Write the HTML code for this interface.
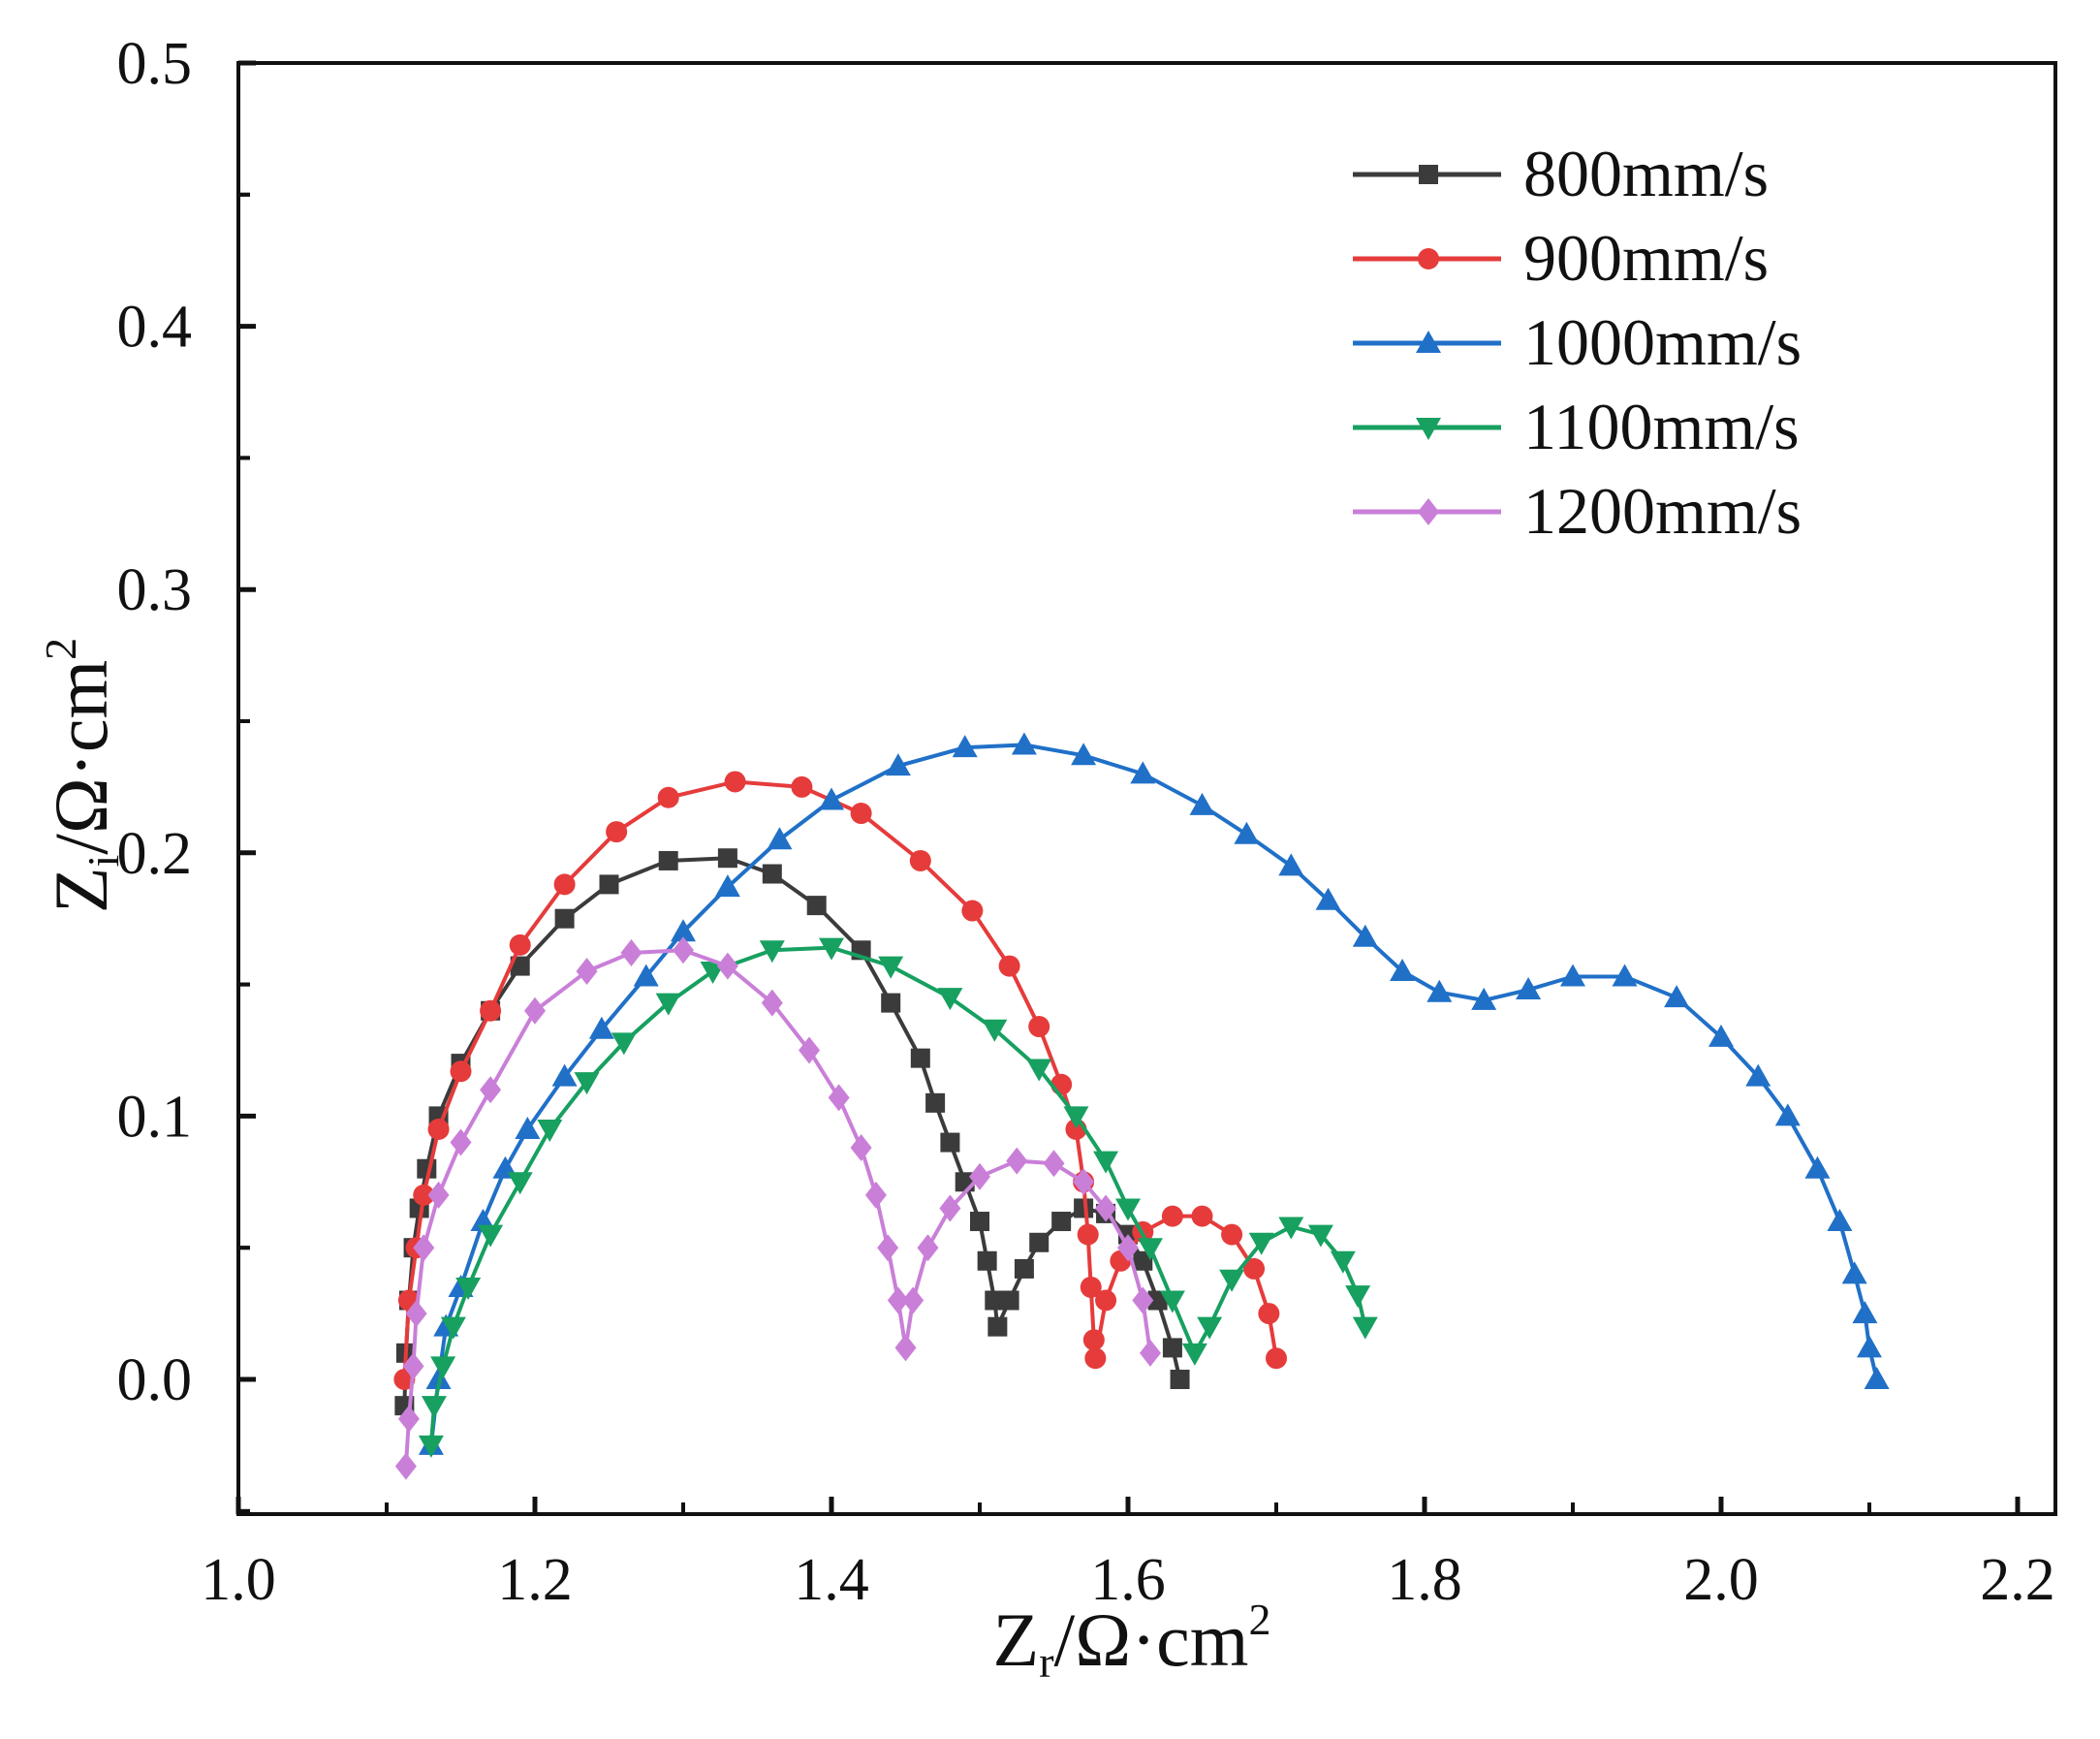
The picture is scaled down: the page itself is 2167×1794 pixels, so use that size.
<!DOCTYPE html>
<html><head><meta charset="utf-8"><style>
body{margin:0;background:#fff}
svg text{font-family:"Liberation Serif",serif;fill:#111}
</style></head><body>
<svg id="chart" width="2167" height="1789" viewBox="0 0 2167 1789" xmlns="http://www.w3.org/2000/svg">
<g id="axes"></g><g id="series"></g><g id="legend"></g>
</svg>
<script>
const xTicks=[1.0,1.2,1.4,1.6,1.8,2.0,2.2];
const yTicks=[0.0,0.1,0.2,0.3,0.4,0.5];
const xTickLabels=["1.0","1.2","1.4","1.6","1.8","2.0","2.2"];
const yTickLabels=["0.0","0.1","0.2","0.3","0.4","0.5"];
const seriesNames=["800mm/s","900mm/s","1000mm/s","1100mm/s","1200mm/s"];
const s800x=[1.112,1.113,1.115,1.118,1.122,1.127,1.135,1.15,1.17,1.19,1.22,1.25,1.29,1.33,1.36,1.39,1.42,1.44,1.46,1.47,1.48,1.49,1.5,1.505,1.51,1.512,1.52,1.53,1.54,1.555,1.57,1.585,1.6,1.61,1.62,1.63,1.635];
const s800y=[-0.01,0.01,0.03,0.05,0.065,0.08,0.1,0.12,0.14,0.157,0.175,0.188,0.197,0.198,0.192,0.18,0.163,0.143,0.122,0.105,0.09,0.075,0.06,0.045,0.03,0.02,0.03,0.042,0.052,0.06,0.065,0.063,0.055,0.045,0.03,0.012,0.0];
const s900x=[1.112,1.115,1.12,1.125,1.135,1.15,1.17,1.19,1.22,1.255,1.29,1.335,1.38,1.42,1.46,1.495,1.52,1.54,1.555,1.565,1.57,1.573,1.575,1.577,1.578,1.585,1.595,1.61,1.63,1.65,1.67,1.685,1.695,1.7];
const s900y=[0.0,0.03,0.05,0.07,0.095,0.117,0.14,0.165,0.188,0.208,0.221,0.227,0.225,0.215,0.197,0.178,0.157,0.134,0.112,0.095,0.075,0.055,0.035,0.015,0.008,0.03,0.045,0.056,0.062,0.062,0.055,0.042,0.025,0.008];
const s1000x=[1.13,1.135,1.14,1.15,1.165,1.18,1.195,1.22,1.245,1.275,1.3,1.33,1.365,1.4,1.445,1.49,1.53,1.57,1.61,1.65,1.68,1.71,1.735,1.76,1.785,1.81,1.84,1.87,1.9,1.935,1.97,2.0,2.025,2.045,2.065,2.08,2.09,2.097,2.1,2.105];
const s1000y=[-0.025,0.0,0.02,0.035,0.06,0.08,0.095,0.115,0.133,0.153,0.17,0.187,0.205,0.22,0.233,0.24,0.241,0.237,0.23,0.218,0.207,0.195,0.182,0.168,0.155,0.147,0.144,0.148,0.153,0.153,0.145,0.13,0.115,0.1,0.08,0.06,0.04,0.025,0.012,0.0];
const s1100x=[1.13,1.132,1.138,1.145,1.155,1.17,1.19,1.21,1.235,1.26,1.29,1.32,1.36,1.4,1.44,1.48,1.51,1.54,1.565,1.585,1.6,1.615,1.63,1.645,1.655,1.67,1.69,1.71,1.73,1.745,1.755,1.76];
const s1100y=[-0.025,-0.01,0.005,0.02,0.035,0.055,0.075,0.095,0.113,0.128,0.143,0.155,0.163,0.164,0.157,0.145,0.133,0.118,0.1,0.083,0.065,0.05,0.03,0.01,0.02,0.038,0.052,0.058,0.055,0.045,0.032,0.02];
const s1200x=[1.113,1.115,1.118,1.12,1.125,1.135,1.15,1.17,1.2,1.235,1.265,1.3,1.33,1.36,1.385,1.405,1.42,1.43,1.438,1.445,1.45,1.455,1.465,1.48,1.5,1.525,1.55,1.57,1.585,1.6,1.61,1.615];
const s1200y=[-0.033,-0.015,0.005,0.025,0.05,0.07,0.09,0.11,0.14,0.155,0.162,0.163,0.157,0.143,0.125,0.107,0.088,0.07,0.05,0.03,0.012,0.03,0.05,0.065,0.077,0.083,0.082,0.075,0.065,0.05,0.03,0.01];

const NS="http://www.w3.org/2000/svg";
const L=246,R=2121,T=65,B=1562;
function sx(v){return 246+(v-1.0)*1530;}
function sy(v){return 1423-v*2716;}
function mk(tag,attrs,parent){const e=document.createElementNS(NS,tag);for(const k in attrs)e.setAttribute(k,attrs[k]);parent.appendChild(e);return e;}
const axes=document.getElementById('axes');
const frame=mk('rect',{x:L,y:T,width:R-L,height:B-T,fill:'none',stroke:'#111','stroke-width':4},axes);


xTicks.forEach((v,i)=>{
  const t=mk('line',{x1:sx(v),x2:sx(v),y1:B,y2:B-18,stroke:'#111','stroke-width':5},axes);
  
  
  if(i<xTicks.length-1){const m=mk('line',{x1:sx(v+0.1),x2:sx(v+0.1),y1:B,y2:B-12,stroke:'#111','stroke-width':4},axes);
  
  }
  const tx=mk('text',{x:sx(v),y:1650,'text-anchor':'middle','font-size':62},axes);tx.textContent=xTickLabels[i];
  
  
});
yTicks.forEach((v,i)=>{
  const t=mk('line',{x1:L,x2:L+18,y1:sy(v),y2:sy(v),stroke:'#111','stroke-width':5},axes);
  
  
  [0.05,-0.05].forEach(d=>{const yv=v+d;if(yv<0.5&&yv>-0.06){const m=mk('line',{x1:L,x2:L+12,y1:sy(yv),y2:sy(yv),stroke:'#111','stroke-width':4},axes);
  
  }});
  const tx=mk('text',{x:198,y:sy(v)+21,'text-anchor':'end','font-size':62},axes);tx.textContent=yTickLabels[i];
  
  
});
const xt=mk('text',{x:1168,y:1718,'text-anchor':'middle','font-size':78},axes);
xt.innerHTML='Z<tspan font-size="46" dy="12">r</tspan><tspan dy="-12">/Ω·cm</tspan><tspan font-size="46" dy="-32">2</tspan>';


const yt=mk('text',{x:0,y:0,'text-anchor':'middle','font-size':78,transform:'translate(110,800) rotate(-90)'},axes);
yt.innerHTML='Z<tspan font-size="46" dy="12">i</tspan><tspan dy="-12">/Ω·cm</tspan><tspan font-size="46" dy="-32">2</tspan>';



const colors=["#3b3b3b","#e63b3b","#2070c8","#17a060","#c97fd8"];
const shapes=["square","circle","tri","tridown","diamond"];
const xs=[s800x,s900x,s1000x,s1100x,s1200x], ys=[s800y,s900y,s1000y,s1100y,s1200y];
function marker(shape,x,y,c,parent){
  const r=13;let e;
  if(shape==="square")e=mk('rect',{x:x-10,y:y-10,width:20,height:20,fill:c},parent);
  else if(shape==="circle")e=mk('circle',{cx:x,cy:y,r:11,fill:c},parent);
  else if(shape==="tri")e=mk('polygon',{points:`${x},${y-r} ${x-r},${y+10} ${x+r},${y+10}`,fill:c},parent);
  else if(shape==="tridown")e=mk('polygon',{points:`${x},${y+r} ${x-r},${y-10} ${x+r},${y-10}`,fill:c},parent);
  else e=mk('polygon',{points:`${x},${y-14} ${x+11},${y} ${x},${y+14} ${x-11},${y}`,fill:c},parent);
  return e;
}
const sg=document.getElementById('series');
xs.forEach((xa,k)=>{
  const g=mk('g',{},sg);
  
  
  const pts=xa.map((v,i)=>sx(v)+','+sy(ys[k][i])).join(' ');
  const pl=mk('polyline',{points:pts,fill:'none',stroke:colors[k],'stroke-width':4},g);
  
  
  xa.forEach((v,i)=>{const m=marker(shapes[k],sx(v),sy(ys[k][i]),colors[k],g);
  
  });
});
const lg=document.getElementById('legend');


seriesNames.forEach((n,k)=>{
  const y=180+k*87;
  const g=mk('g',{},lg);
  
  
  mk('line',{x1:1396,x2:1549,y1:y,y2:y,stroke:colors[k],'stroke-width':5},g);
  marker(shapes[k],1474,y,colors[k],g);
  const t=mk('text',{x:1572,y:y+22,'font-size':68},g);t.textContent=n;
});
</script>
</body></html>
